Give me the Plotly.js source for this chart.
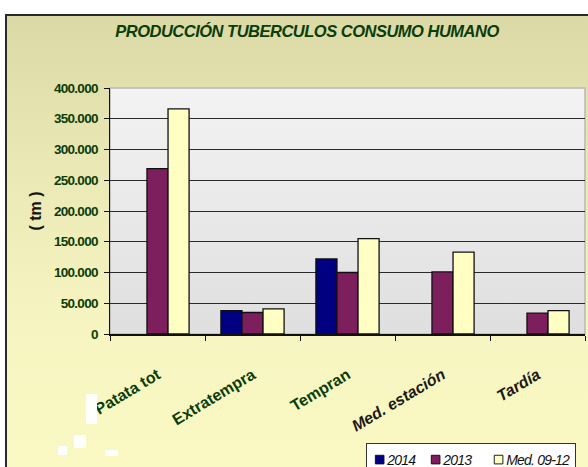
<!DOCTYPE html>
<html><head><meta charset="utf-8">
<script src="https://cdn.plot.ly/plotly-3.0.1.min.js"></script>
<style>
html,body{margin:0;padding:0;background:#fff;overflow:hidden;width:588px;height:467px;}
#frame{position:absolute;left:5px;top:14px;width:600px;height:470px;border:2px solid #2a2a2a;
 background:linear-gradient(to bottom,#dbd9a5 0%,#e9e7b4 30%,#f6f4c0 65%,#fbf9c3 100%);}
#pbg{position:absolute;left:110px;top:88px;width:475px;height:246px;
 background:linear-gradient(to bottom,#f3f3f3 0%,#dfdfdf 100%);}
#chart{position:absolute;left:0;top:0;width:620px;height:500px;}
.wb{position:absolute;background:#fff;z-index:10;}
.gtitle{letter-spacing:-0.5px;}
.ytick text{letter-spacing:-0.7px;}
.legendtext{letter-spacing:-0.8px;}
</style></head>
<body>
<div id="frame"></div>
<div id="pbg"></div>
<div id="chart"></div>
<div class="wb" style="left:86px;top:394px;width:11px;height:30px"></div>
<div class="wb" style="left:74px;top:435px;width:12px;height:13px"></div>
<div class="wb" style="left:58px;top:446px;width:9px;height:9px"></div>
<div class="wb" style="left:105px;top:450px;width:13px;height:6px"></div>
<script>
const categories = ["Patata tot", "Extratempra", "Tempran", "Med. estación", "Tardía"];
const series2014 = [null, 38000, 122000, null, null];
const series2013 = [269000, 35000, 100000, 101000, 34000];
const seriesMed = [366000, 41000, 155000, 133000, 38000];
const seriesNames = ["2014", "2013", "Med. 09-12"];
const yTickVals = [0, 50000, 100000, 150000, 200000, 250000, 300000, 350000, 400000];
const chartTitle = "PRODUCCIÓN TUBERCULOS CONSUMO HUMANO";
const yTitle = "( tm )";

const labelStyle = (c, i) => i < 3
  ? '<span style="color:#0b3d0b">' + c + '</span>'
  : '<span style="color:#1a1a1a"><i>' + c + '</i></span>';

const colors = ["#000080", "#7d1f5d", "#ffffc4"];
const vals = [series2014, series2013, seriesMed];
const traces = vals.map((v, k) => ({
  type: "bar", x: categories, y: v, name: seriesNames[k],
  marker: {color: colors[k], line: {color: "#111", width: 1.3}},
  hoverinfo: "skip"
}));

const W = 620, H = 500;
const layout = {
  width: W, height: H,
  margin: {l: 110, r: W - 585, t: 88, b: H - 334},
  paper_bgcolor: "rgba(0,0,0,0)", plot_bgcolor: "rgba(0,0,0,0)",
  separators: ",.",
  barmode: "group", bargap: 0.335, bargroupgap: 0,
  font: {family: "Liberation Sans, Arial, sans-serif"},
  title: {text: "<b><i>" + chartTitle + "</i></b>", x: 307 / W, xref: "container", xanchor: "center",
          y: 1 - 31 / H, yref: "container", yanchor: "middle",
          font: {size: 16.5, color: "#0b3d0b", family: "Liberation Sans, Arial, sans-serif"}},
  xaxis: {type: "category", tickmode: "array", tickvals: categories,
          ticktext: categories.map(labelStyle),
          tickangle: -31, ticks: "outside", ticklen: 5, tickcolor: "#111", tickson: "boundaries",
          showline: true, linecolor: "#111", linewidth: 1.5, showgrid: false,
          ticklabelstandoff: 24, automargin: false,
          tickfont: {size: 16, weight: "bold", color: "#0b3d0b"}},
  yaxis: {range: [0, 400000], tickmode: "array", tickvals: yTickVals, tickformat: ",.0f",
          ticks: "outside", ticklen: 5, tickcolor: "#111", automargin: false,
          showline: true, linecolor: "#111", linewidth: 1.5, ticklabelstandoff: 3,
          showgrid: true, gridcolor: "#2a2a2a", gridwidth: 1, zeroline: false,
          tickfont: {size: 13.5, weight: "bold", color: "#0b3d0b"},
          title: {text: "<b>" + yTitle + "</b>", standoff: 8, font: {size: 16, color: "#151515"}}},
  showlegend: true,
  legend: {orientation: "h", x: (575 - 110) / 475, xanchor: "right", y: (334 - 443) / 246, yanchor: "top",
           bgcolor: "#ffffff", bordercolor: "#333", borderwidth: 1,
           font: {size: 14, style: "italic", color: "#111"}, itemwidth: 30,
           traceorder: "normal", tracegroupgap: 0},
  shapes: [{type: "rect", xref: "paper", yref: "paper", x0: 0, x1: 1, y0: 0, y1: 1,
            line: {color: "#b8b8b8", width: 1.5}, layer: "below"}]
};
Plotly.newPlot("chart", traces, layout, {displayModeBar: false, staticPlot: true}).then(gd => {
  // compact the legend entries (small square right before its label)
  try {
    const leg = gd.querySelector("g.legend");
    const items = leg.querySelectorAll("g.traces");
    let x = 8;
    items.forEach((t, i) => {
      const txt = t.querySelector(".legendtext");
      const m = /translate\(\s*([-\d.]+)[ ,]+([-\d.]+)/.exec(t.getAttribute("transform") || "");
      const ty = m ? parseFloat(m[2]) : 0;
      t.setAttribute("transform", "translate(" + x + "," + ty + ")");
      const lay = t.querySelector("g.layers");
      if (lay) lay.setAttribute("transform", "translate(-9,0) scale(0.72)");
      txt.setAttribute("x", 13);
      const w = txt.getComputedTextLength();
      x += 13 + w + (i === 1 ? 22 : 15);
    });
    const width = x - 15 + 6;
    const bg = leg.querySelector("rect.bg");
    bg.setAttribute("width", width);
    const lm = /translate\(\s*([-\d.]+)[ ,]+([-\d.]+)/.exec(leg.getAttribute("transform"));
    leg.setAttribute("transform", "translate(" + (575 - width) + "," + (lm ? lm[2] : 443) + ")");
  } catch (e) {}
});
</script>
</body></html>
